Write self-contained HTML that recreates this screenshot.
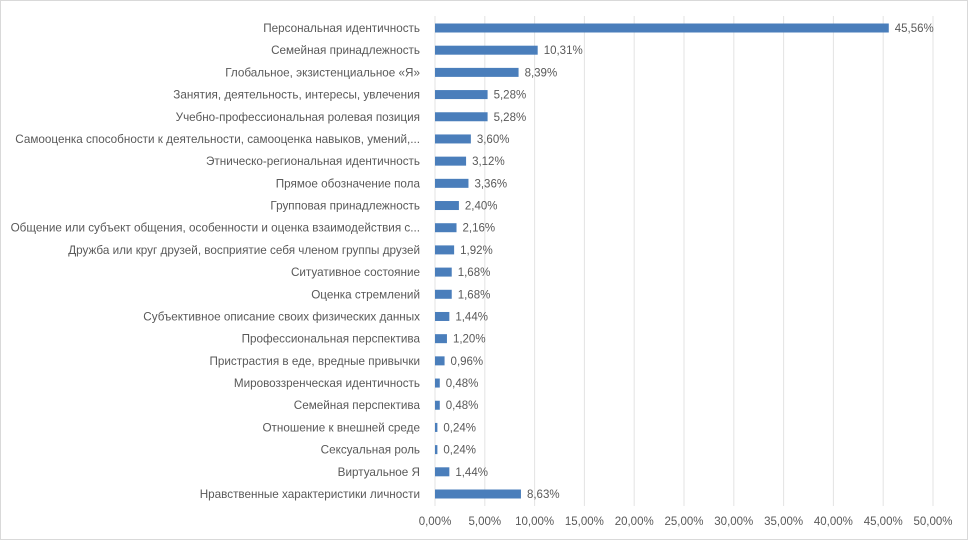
<!DOCTYPE html>
<html><head><meta charset="utf-8"><style>
html,body{margin:0;padding:0;background:#fff}
svg{display:block}
text{font-family:"Liberation Sans",sans-serif;font-size:11.5px;fill:#595959}
text.cat{font-size:11.7px}
</style></head><body>
<svg id="chart" width="969" height="541" xmlns="http://www.w3.org/2000/svg">
<rect x="0.5" y="0.5" width="967" height="539" fill="#fff" stroke="#d9d9d9"/>
<g id="grid"></g><g id="bars"></g><g id="labels"></g><g id="ticks"></g>
</svg>
<script>
const categories=["Персональная идентичность","Семейная принадлежность","Глобальное, экзистенциальное «Я»","Занятия, деятельность, интересы, увлечения","Учебно-профессиональная ролевая позиция","Самооценка способности к деятельности, самооценка навыков, умений,...","Этническо-региональная идентичность","Прямое обозначение пола","Групповая принадлежность","Общение или субъект общения, особенности и оценка взаимодействия с...","Дружба или круг друзей, восприятие себя членом группы друзей","Ситуативное состояние","Оценка стремлений","Субъективное описание своих физических данных","Профессиональная перспектива","Пристрастия в еде, вредные привычки","Мировоззренческая идентичность","Семейная перспектива","Отношение к внешней среде","Сексуальная роль","Виртуальное Я","Нравственные характеристики личности"];
const values=[45.56,10.31,8.39,5.28,5.28,3.60,3.12,3.36,2.40,2.16,1.92,1.68,1.68,1.44,1.20,0.96,0.48,0.48,0.24,0.24,1.44,8.63];
const valueLabels=["45,56%","10,31%","8,39%","5,28%","5,28%","3,60%","3,12%","3,36%","2,40%","2,16%","1,92%","1,68%","1,68%","1,44%","1,20%","0,96%","0,48%","0,48%","0,24%","0,24%","1,44%","8,63%"];
const tickValues=[0,5,10,15,20,25,30,35,40,45,50];
const tickLabels=["0,00%","5,00%","10,00%","15,00%","20,00%","25,00%","30,00%","35,00%","40,00%","45,00%","50,00%"];
const NS="http://www.w3.org/2000/svg";
const x=v=>435+v*(933-435)/50;
const y=i=>28+i*(494-28)/(categories.length-1);
function mk(tag,attrs,parent,txt){const e=document.createElementNS(NS,tag);for(const k in attrs)e.setAttribute(k,attrs[k]);if(txt!==undefined)e.textContent=txt;document.getElementById(parent).appendChild(e);return e;}
tickValues.forEach((t,i)=>{
  const g=mk('line',{x1:x(t),x2:x(t),y1:16,y2:506,stroke:'#e3e3e3','stroke-width':1},'grid');
  
  
  const l=mk('text',{x:x(t),y:525,'text-anchor':'middle'},'ticks',tickLabels[i]);
  
  
});
categories.forEach((c,i)=>{
  const b=mk('rect',{x:x(0),y:y(i)-4.5,width:x(values[i])-x(0),height:9,fill:'#4a7ebb'},'bars');
  
  
  const cl=mk('text',{x:420,y:y(i)+4,'text-anchor':'end','class':'cat'},'labels',c);
  
  
  const vl=mk('text',{x:x(values[i])+6,y:y(i)+4},'labels',valueLabels[i]);
  
  
});
</script>
</body></html>
